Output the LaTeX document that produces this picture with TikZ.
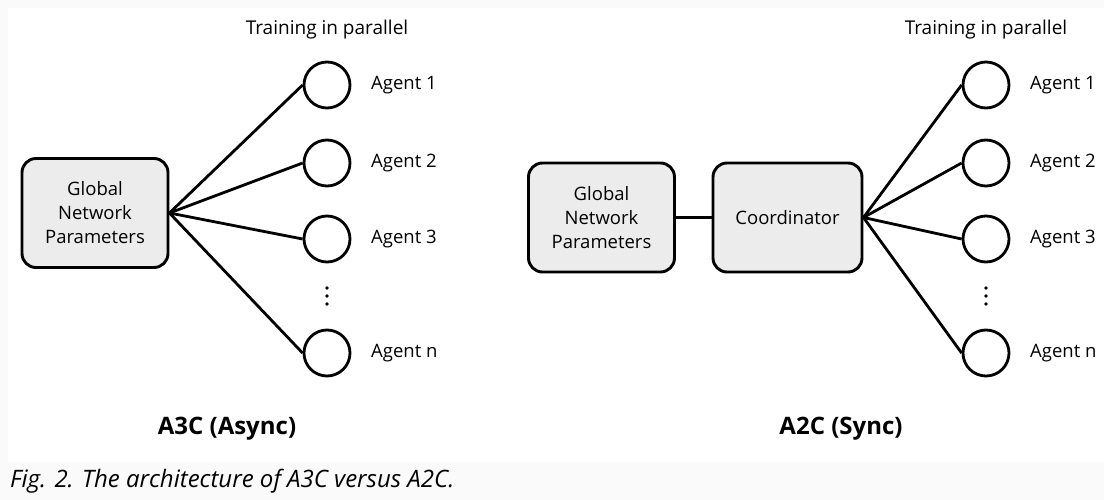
\documentclass[tikz,border=0pt]{standalone}
\usepackage{fontspec}
\setmainfont{Open Sans}
\begin{document}
\begin{tikzpicture}[x=1pt,y=-1pt,
  box/.style={draw,line width=2.9pt,rounded corners=14pt,fill=boxgray,minimum width=146pt,minimum height=109pt,align=center,inner sep=2pt,font=\fontsize{18.5}{24}\selectfont},
  agent/.style={draw,circle,line width=2.8pt,minimum size=46pt,inner sep=0pt,fill=white},
  lab/.style={anchor=west,inner sep=0pt,font=\fontsize{18.5}{22}\selectfont},
  ttl/.style={inner sep=0pt,font=\fontsize{19}{22}\selectfont},
  head/.style={inner sep=0pt,font=\fontsize{24}{28}\selectfont\bfseries},
  conn/.style={line width=2.8pt},
  dot/.style={fill=black,circle,inner sep=0pt,minimum size=3.6pt}]
\definecolor{boxgray}{HTML}{ECECEC}
\definecolor{bgouter}{HTML}{FAFAFA}
\useasboundingbox (0,0) rectangle (1104,500);
\fill[bgouter] (0,0) rectangle (1104,500);
\fill[white] (8,8) rectangle (1104,462);

% ---------- left: A3C ----------
\node[box] (gL) at (95,213) {Global\\Network\\Parameters};
\foreach \i/\y in {1/85,2/163,3/239,n/353}{
  \node[agent] (aL\i) at (327,\y) {};
  \node[lab] (tL\i) at (371,\y) {Agent \i};
  \draw[conn] (gL.east) -- (aL\i.west);
}
\node[dot] (dL1) at (327,288) {};
\node[dot] (dL2) at (327,296) {};
\node[dot] (dL3) at (327,304) {};
\node[ttl] (trL) at (327,30) {Training in parallel};
\node[head] (hL) at (227,429) {A3C (Async)};

% ---------- right: A2C ----------
\node[box] (gR) at (601.5,217.5) {Global\\Network\\Parameters};
\node[box,minimum width=149pt] (cR) at (787.5,217.5) {Coordinator};
\draw[conn] (gR.east) -- (cR.west);
\foreach \i/\y in {1/85,2/163,3/239,n/353}{
  \node[agent] (aR\i) at (986,\y) {};
  \node[lab] (tR\i) at (1030,\y) {Agent \i};
  \draw[conn] (cR.east) -- (aR\i.west);
}
\node[dot] (dR1) at (986,288) {};
\node[dot] (dR2) at (986,296) {};
\node[dot] (dR3) at (986,304) {};
\node[ttl] (trR) at (986,30) {Training in parallel};
\node[head] (hR) at (841,429) {A2C (Sync)};

% ---------- caption ----------
\node[anchor=west,inner sep=0pt,font=\fontsize{24}{28}\selectfont\itshape] (cap) at (10,481) {Fig. 2. The architecture of A3C versus A2C.};
\end{tikzpicture}
\end{document}
